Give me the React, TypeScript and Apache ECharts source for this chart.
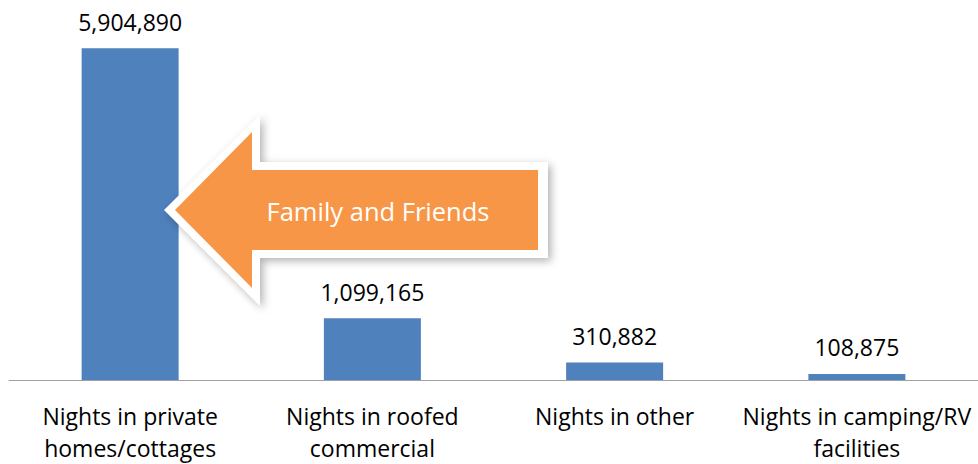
import React, { useEffect, useRef } from "react";
import * as echarts from "echarts";

const categories = [
  "Nights in private\nhomes/cottages",
  "Nights in roofed\ncommercial",
  "Nights in other",
  "Nights in camping/RV\nfacilities",
];
const nights = [5904890, 1099165, 310882, 108875];
const arrowText = "Family and Friends";

const FONT = "'Open Sans', 'Liberation Sans', sans-serif";

export default function App() {
  const ref = useRef<HTMLDivElement>(null);
  useEffect(() => {
    if (!ref.current) return;
    const chart = echarts.init(ref.current, null, { renderer: "svg" });
    const outer = [
      [164, 210],
      [260, 115],
      [260, 162],
      [548, 162],
      [548, 258],
      [260, 258],
      [260, 306],
    ];
    const inner = [
      [175, 210],
      [252, 132],
      [252, 170],
      [538, 170],
      [538, 250],
      [252, 250],
      [252, 288],
    ];
    chart.setOption({
      animation: false,
      backgroundColor: "#ffffff",
      grid: { left: 9, top: 43, width: 970, height: 339, containLabel: false },
      xAxis: {
        type: "category",
        data: categories,
        axisLine: { show: true, lineStyle: { color: "#a0a0a0", width: 1 } },
        axisTick: { show: false },
        axisLabel: {
          interval: 0,
          margin: 20,
          color: "#000000",
          fontFamily: FONT,
          fontSize: 23,
          lineHeight: 32,
        },
      },
      yAxis: {
        type: "value",
        min: 0,
        max: 6000000,
        show: false,
        splitLine: { show: false },
      },
      series: [
        {
          type: "bar",
          data: nights,
          barWidth: 97,
          itemStyle: { color: "#4F81BD" },
          label: {
            show: true,
            position: "top",
            distance: 15,
            color: "#000000",
            fontFamily: FONT,
            fontSize: 23,
            formatter: (p: any) => Number(p.value).toLocaleString("en-US"),
          },
        },
      ],
      graphic: [
        {
          type: "polygon",
          shape: { points: outer },
          style: {
            fill: "#ffffff",
            shadowBlur: 8,
            shadowColor: "rgba(0,0,0,0.3)",
            shadowOffsetX: 3,
            shadowOffsetY: 3,
          },
          z: 10,
        },
        {
          type: "polygon",
          shape: { points: inner },
          style: { fill: "#F79646" },
          z: 11,
        },
        {
          type: "text",
          x: 378,
          y: 211,
          style: {
            text: arrowText,
            fill: "#ffffff",
            font: `25.5px ${FONT}`,
            textAlign: "center",
            textVerticalAlign: "middle",
          },
          z: 12,
        },
      ],
    });
    return () => chart.dispose();
  }, []);
  return (
    <div
      ref={ref}
      style={{ position: "absolute", left: 0, top: 0, width: 978, height: 464 }}
    />
  );
}
